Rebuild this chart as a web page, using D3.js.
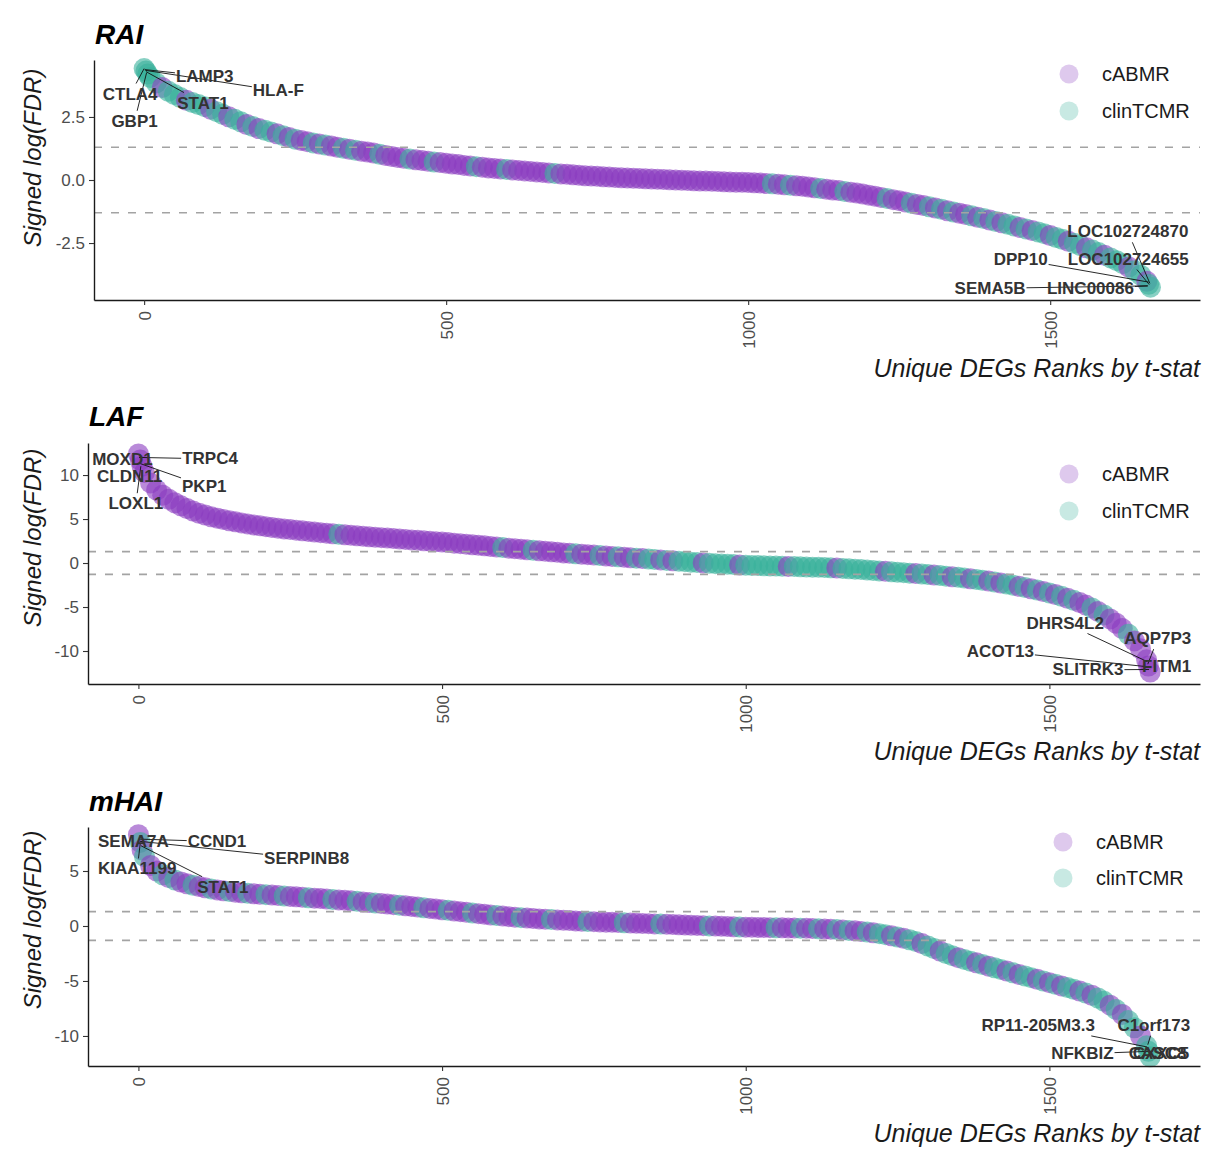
<!DOCTYPE html>
<html>
<head>
<meta charset="utf-8">
<script src="https://cdn.jsdelivr.net/npm/d3@7"></script>
<style>
  body { margin: 0; background: #fff; }
  text { font-family: "Liberation Sans", Arial, Helvetica, sans-serif; }
</style>
</head>
<body>
<svg id="chart" width="1216" height="1158"></svg>
<script>
// ---- data ----
// sampled ranks of the unique DEGs (x), shared by the three panels
const ranks = [0, 3, 6,
  10, 20, 30, 40, 50, 60, 70, 80, 90, 100,
  110, 120, 130, 140, 150, 160, 170, 180, 190, 200,
  210, 220, 230, 240, 250, 260, 270, 280, 290, 300,
  310, 320, 330, 340, 350, 360, 370, 380, 390, 400,
  410, 420, 430, 440, 450, 460, 470, 480, 490, 500,
  510, 520, 530, 540, 550, 560, 570, 580, 590, 600,
  610, 620, 630, 640, 650, 660, 670, 680, 690, 700,
  710, 720, 730, 740, 750, 760, 770, 780, 790, 800,
  810, 820, 830, 840, 850, 860, 870, 880, 890, 900,
  910, 920, 930, 940, 950, 960, 970, 980, 990, 1000,
  1010, 1020, 1030, 1040, 1050, 1060, 1070, 1080, 1090, 1100,
  1110, 1120, 1130, 1140, 1150, 1160, 1170, 1180, 1190, 1200,
  1210, 1220, 1230, 1240, 1250, 1260, 1270, 1280, 1290, 1300,
  1310, 1320, 1330, 1340, 1350, 1360, 1370, 1380, 1390, 1400,
  1410, 1420, 1430, 1440, 1450, 1460, 1470, 1480, 1490, 1500,
  1510, 1520, 1530, 1540, 1550, 1560, 1570, 1580, 1590, 1600,
  1610, 1620, 1630, 1640, 1650, 1660,
  1663, 1666];

const raiValues = [4.42, 4.32, 4.20,
  4.07, 3.85, 3.67, 3.52, 3.39, 3.27, 3.16, 3.07, 2.99, 2.91,
  2.81, 2.71, 2.61, 2.51, 2.41, 2.31, 2.20, 2.12, 2.04, 1.97,
  1.90, 1.83, 1.76, 1.69, 1.62, 1.57, 1.52, 1.47, 1.43, 1.39,
  1.35, 1.30, 1.26, 1.22, 1.18, 1.14, 1.11, 1.07, 1.02, 0.97,
  0.93, 0.89, 0.86, 0.83, 0.80, 0.77, 0.74, 0.71, 0.69, 0.66,
  0.63, 0.61, 0.58, 0.56, 0.53, 0.51, 0.48, 0.46, 0.44, 0.42,
  0.40, 0.38, 0.36, 0.34, 0.32, 0.30, 0.28, 0.26, 0.24, 0.23,
  0.21, 0.19, 0.17, 0.16, 0.15, 0.13, 0.12, 0.10, 0.09, 0.08,
  0.07, 0.06, 0.05, 0.04, 0.03, 0.02, 0.01, 0.00, -0.01, -0.02,
  -0.03, -0.04, -0.04, -0.05, -0.06, -0.07, -0.08, -0.09, -0.09, -0.10,
  -0.11, -0.12, -0.14, -0.15, -0.17, -0.19, -0.21, -0.23, -0.25, -0.28,
  -0.31, -0.34, -0.37, -0.40, -0.42, -0.46, -0.49, -0.52, -0.56, -0.60,
  -0.64, -0.69, -0.73, -0.78, -0.82, -0.87, -0.92, -0.97, -1.01, -1.06,
  -1.11, -1.16, -1.22, -1.27, -1.32, -1.37, -1.42, -1.48, -1.53, -1.59,
  -1.65, -1.70, -1.76, -1.82, -1.88, -1.94, -2.00, -2.06, -2.13, -2.20,
  -2.28, -2.35, -2.43, -2.51, -2.60, -2.69, -2.78, -2.88, -2.98, -3.09,
  -3.20, -3.32, -3.45, -3.60, -3.78, -4.02,
  -4.14, -4.25];

const lafValues = [12.4, 11.7, 11.0,
  10.3, 9.1, 8.3, 7.7, 7.25, 6.85, 6.5, 6.2, 5.9, 5.65,
  5.45, 5.25, 5.1, 4.95, 4.8, 4.68, 4.56, 4.44, 4.33, 4.23,
  4.13, 4.04, 3.96, 3.88, 3.8, 3.73, 3.66, 3.59, 3.52, 3.45,
  3.39, 3.33, 3.27, 3.21, 3.15, 3.09, 3.04, 2.99, 2.93, 2.88,
  2.83, 2.78, 2.73, 2.68, 2.63, 2.58, 2.53, 2.48, 2.43, 2.38,
  2.32, 2.26, 2.2, 2.14, 2.08, 2.02, 1.95, 1.88, 1.82, 1.75,
  1.69, 1.63, 1.57, 1.51, 1.45, 1.39, 1.33, 1.27, 1.21, 1.15,
  1.1, 1.05, 1.0, 0.95, 0.9, 0.85, 0.8, 0.75, 0.7, 0.65,
  0.6, 0.55, 0.5, 0.45, 0.4, 0.35, 0.3, 0.25, 0.2, 0.15,
  0.1, 0.05, 0.01, -0.03, -0.07, -0.11, -0.14, -0.18, -0.22, -0.25,
  -0.27, -0.29, -0.31, -0.33, -0.35, -0.37, -0.39, -0.41, -0.43, -0.45,
  -0.47, -0.49, -0.51, -0.54, -0.57, -0.61, -0.65, -0.7, -0.75, -0.8,
  -0.85, -0.9, -0.95, -1.0, -1.05, -1.1, -1.15, -1.2, -1.25, -1.3,
  -1.36, -1.42, -1.49, -1.56, -1.63, -1.71, -1.79, -1.87, -1.96, -2.05,
  -2.16, -2.27, -2.39, -2.52, -2.65, -2.79, -2.93, -3.08, -3.24, -3.4,
  -3.58, -3.78, -4.0, -4.24, -4.5, -4.78, -5.1, -5.5, -5.9, -6.35,
  -6.85, -7.45, -8.1, -8.85, -9.75, -11.0,
  -11.7, -12.4];

const mhaiValues = [8.3, 7.6, 6.9,
  6.3, 5.5, 5.0, 4.65, 4.4, 4.18, 4.0, 3.84, 3.7, 3.58,
  3.47, 3.37, 3.28, 3.2, 3.13, 3.07, 3.02, 2.97, 2.93, 2.89,
  2.85, 2.81, 2.77, 2.73, 2.69, 2.65, 2.61, 2.57, 2.53, 2.49,
  2.45, 2.41, 2.37, 2.33, 2.29, 2.24, 2.19, 2.14, 2.09, 2.04,
  1.99, 1.94, 1.89, 1.84, 1.78, 1.72, 1.66, 1.6, 1.54, 1.48,
  1.42, 1.36, 1.3, 1.24, 1.18, 1.12, 1.06, 1.0, 0.95, 0.9,
  0.85, 0.8, 0.76, 0.72, 0.68, 0.64, 0.61, 0.58, 0.55, 0.52,
  0.49, 0.46, 0.43, 0.41, 0.39, 0.37, 0.35, 0.33, 0.31, 0.29,
  0.27, 0.25, 0.23, 0.21, 0.19, 0.17, 0.15, 0.13, 0.11, 0.09,
  0.07, 0.05, 0.03, 0.01, -0.01, -0.03, -0.05, -0.07, -0.09, -0.11,
  -0.12, -0.13, -0.14, -0.15, -0.16, -0.17, -0.18, -0.19, -0.2, -0.21,
  -0.23, -0.25, -0.27, -0.3, -0.33, -0.36, -0.4, -0.44, -0.49, -0.55,
  -0.62, -0.7, -0.79, -0.89, -1.0, -1.12, -1.25, -1.4, -1.6, -1.82,
  -2.05, -2.28, -2.5, -2.7, -2.88, -3.04, -3.2, -3.35, -3.5, -3.65,
  -3.8, -3.95, -4.1, -4.25, -4.4, -4.55, -4.7, -4.85, -5.0, -5.15,
  -5.3, -5.45, -5.6, -5.76, -5.92, -6.1, -6.3, -6.55, -6.85, -7.2,
  -7.6, -8.05, -8.6, -9.25, -10.0, -10.9,
  -11.4, -11.9];

// A = cABMR, T = clinTCMR, one letter per sampled rank (same rows as above)
const raiGroups = ["TTT",
  "TTATTTATTT", "ATTATTATAT", "TATATAATAT", "AATATAAATA", "AAATAAATAA",
  "AAAATAAAAT", "AAAAAAATAA", "AAAAAAAAAA", "AAAAAAAAAA", "AAAAAAAAAA",
  "AAATAATAAA", "ATAAATAAAA", "AATAAATAAT", "ATATAATATA", "TATTATATTA",
  "TTATTATTAT", "TTATTA", "TT"].join("").split("");
const lafGroups = ["AAA",
  "AAAAAAAAAA", "AAAAAAAAAA", "AAAAAAAAAA", "AATAAAAAAA", "AAAAAAAAAA",
  "AAAAAAAAAT", "AAAATAAAAA", "ATAAATAATA", "ATATTATATT", "TTATTTTTAT",
  "TTTTTTATTT", "TTTTATTTTT", "TTATTTTATT", "ATTATTATTA", "TATTATATAT",
  "ATATAATATA", "AATAAA", "AA"].join("").split("");
const mhaiGroups = ["ATA",
  "TAATATAATA", "ATAATAATAA", "TAATAAATAA", "ATAAATAATA", "AATAAATAAA",
  "TAAATAAATA", "AATAAAATAA", "AAATAAAAAT", "AAAAATAAAA", "AAATAAAATA",
  "AAAATAAATA", "ATAATATAAT", "ATTATATTAT", "TATTATTATA", "TTATATTATA",
  "TATTATATTA", "TATTAT", "TT"].join("").split("");

const groupNames = ["cABMR", "clinTCMR"];

const xTicks = [0, 500, 1000, 1500];
const xTickLabels = ["0", "500", "1000", "1500"];
const raiTicks = [-2.5, 0, 2.5];
const raiTickLabels = ["-2.5", "0.0", "2.5"];
const lafTicks = [-10, -5, 0, 5, 10];
const lafTickLabels = ["-10", "-5", "0", "5", "10"];
const mhaiTicks = [-10, -5, 0, 5];
const mhaiTickLabels = ["-10", "-5", "0", "5"];

// labelled genes: name, rank, signed log(FDR)
const raiGenes = ["CTLA4", "LAMP3", "HLA-F", "STAT1", "GBP1",
  "LOC102724870", "LOC102724655", "DPP10", "SEMA5B", "LINC00086"];
const raiGeneRanks = [0, 1, 2, 3, 4, 1665, 1664, 1663, 1662, 1661];
const raiGeneValues = [4.42, 4.38, 4.35, 4.30, 4.25, -4.10, -4.15, -4.05, -4.20, -4.20];

const lafGenes = ["MOXD1", "TRPC4", "CLDN11", "PKP1", "LOXL1",
  "DHRS4L2", "AQP7P3", "ACOT13", "SLITRK3", "FITM1"];
const lafGeneRanks = [0, 1, 2, 3, 4, 1661, 1662, 1663, 1664, 1665];
const lafGeneValues = [12.4, 12.0, 11.6, 11.3, 11.0, -11.2, -11.5, -11.8, -12.1, -12.4];

const mhaiGenes = ["SEMA7A", "CCND1", "SERPINB8", "KIAA1199", "STAT1",
  "RP11-205M3.3", "C1orf173", "NFKBIZ", "CXXC5", "CASC8"];
const mhaiGeneRanks = [0, 1, 2, 3, 4, 1661, 1662, 1663, 1664, 1665];
const mhaiGeneValues = [8.3, 7.9, 7.7, 7.5, 7.3, -11.0, -10.8, -11.4, -11.6, -11.8];

const fdrCut = 1.3; // -log10(0.05)

// ---- layout ----
const colors = { A: "#8a3cc0", T: "#38b09b" };
const legendColors = [colors.A, colors.T];

// label offsets from their point (repel result), px
const raiNudge = [[-14, 25], [60, 6], [133, 20], [57, 31], [-12, 48],
  [-22, -52], [-21, -26], [-128, -23], [-158, 2], [-57, 2]];
const lafNudge = [[-16, 5], [71, 1], [-10, 15], [64, 22], [-5, 37],
  [-82, -39], [10, -26], [-148, -16], [-61, 0], [17, -6]];
const mhaiNudge = [[-5, 6], [78, 2], [167, 17], [-3, 25], [82, 41],
  [-109, -22], [6, -20], [-66, 2], [12, -1], [8, -3]];

const panels = [
  { title: "RAI", values: raiValues, groups: raiGroups, ticks: raiTicks, tickLabels: raiTickLabels,
    genes: raiGenes, geneRanks: raiGeneRanks, geneValues: raiGeneValues, nudge: raiNudge,
    left: 94, right: 1200, top: 60, bottom: 300, yDomain: [-4.76, 4.76],
    titleY: 44, ylabY: 158, xlabY: 377, legX: 1069, legY: [74, 111] },
  { title: "LAF", values: lafValues, groups: lafGroups, ticks: lafTicks, tickLabels: lafTickLabels,
    genes: lafGenes, geneRanks: lafGeneRanks, geneValues: lafGeneValues, nudge: lafNudge,
    left: 88, right: 1200, top: 443, bottom: 684, yDomain: [-13.75, 13.64],
    titleY: 426, ylabY: 538, xlabY: 760, legX: 1069, legY: [474, 511] },
  { title: "mHAI", values: mhaiValues, groups: mhaiGroups, ticks: mhaiTicks, tickLabels: mhaiTickLabels,
    genes: mhaiGenes, geneRanks: mhaiGeneRanks, geneValues: mhaiGeneValues, nudge: mhaiNudge,
    left: 88, right: 1200, top: 827, bottom: 1066, yDomain: [-12.73, 9.0],
    titleY: 811, ylabY: 920, xlabY: 1142, legX: 1063, legY: [842, 878] }
];

const svg = d3.select("#chart");

function clipToBox(px, py, b, pad) {
  const cx = b.x + b.width / 2, cy = b.y + b.height / 2;
  const dx = px - cx, dy = py - cy;
  const hw = b.width / 2 + pad, hh = b.height / 2 + pad;
  if (Math.abs(dx) <= hw && Math.abs(dy) <= hh) return null;
  const t = Math.min(hw / Math.max(Math.abs(dx), 1e-6), hh / Math.max(Math.abs(dy), 1e-6));
  return [cx + dx * t, cy + dy * t];
}

panels.forEach(function(p) {
  const x = d3.scaleLinear().domain([-83, 1748]).range([p.left, p.right]);
  const y = d3.scaleLinear().domain(p.yDomain).range([p.bottom, p.top]);
  const g = svg.append("g");

  // points
  const pts = ranks.map(function(r, i) { return { r: r, v: p.values[i], grp: p.groups[i] || "A" }; });
  g.append("g").selectAll("circle")
    .data(pts)
    .enter()
    .append("circle")
    .attr("cx", function(d) { return x(d.r); })
    .attr("cy", function(d) { return y(d.v); })
    .attr("r", 10.5)
    .style("fill", function(d) { return colors[d.grp]; })
    .style("fill-opacity", 0.6);

  // FDR cut-offs
  g.append("g").selectAll("line")
    .data([fdrCut, -fdrCut])
    .enter()
    .append("line")
    .attr("x1", p.left).attr("x2", p.right)
    .attr("y1", function(d) { return y(d); })
    .attr("y2", function(d) { return y(d); })
    .style("stroke", "#a3a3a3")
    .style("stroke-width", 1.7)
    .style("stroke-dasharray", "8,9");

  // axes
  const yAxis = g.append("g")
    .attr("transform", "translate(" + p.left + ",0)")
    .call(d3.axisLeft(y).tickValues(p.ticks)
      .tickFormat(function(d, i) { return p.tickLabels[i]; })
      .tickSize(5).tickSizeOuter(0).tickPadding(4));
  const xAxis = g.append("g")
    .attr("transform", "translate(0," + p.bottom + ")")
    .call(d3.axisBottom(x).tickValues(xTicks)
      .tickFormat(function(d, i) { return xTickLabels[i]; })
      .tickSize(5).tickSizeOuter(0));
  xAxis.selectAll("text")
    .attr("transform", "rotate(-90)")
    .attr("x", -11).attr("y", 0).attr("dy", "0.35em")
    .style("text-anchor", "end");
  [yAxis, xAxis].forEach(function(a) {
    a.select(".domain").style("stroke", "#1a1a1a").style("stroke-width", 1.4);
    a.selectAll(".tick line").style("stroke", "#333").style("stroke-width", 1.1);
    a.selectAll(".tick text")
      .style("font-size", "17px")
      .style("fill", "#4d4d4d")
      .style("font-family", "'Liberation Sans', Arial, sans-serif");
  });

  // titles
  g.append("text")
    .attr("x", p.left + 1).attr("y", p.titleY)
    .style("font-size", "28px").style("font-weight", "bold").style("font-style", "italic")
    .style("fill", "#000")
    .text(p.title);
  g.append("text")
    .attr("transform", "translate(33," + p.ylabY + ") rotate(-90)")
    .attr("dy", "0.35em")
    .style("text-anchor", "middle")
    .style("font-size", "24px").style("font-style", "italic").style("fill", "#1a1a1a")
    .text("Signed log(FDR)");
  g.append("text")
    .attr("x", p.right).attr("y", p.xlabY)
    .style("text-anchor", "end")
    .style("font-size", "25px").style("font-style", "italic").style("fill", "#1a1a1a")
    .text("Unique DEGs Ranks by t-stat");

  // legend
  const leg = g.append("g").selectAll("g")
    .data(groupNames)
    .enter()
    .append("g")
    .attr("transform", function(d, i) { return "translate(" + p.legX + "," + p.legY[i] + ")"; });
  leg.append("circle")
    .attr("r", 9.5)
    .style("fill", function(d, i) { return legendColors[i]; })
    .style("fill-opacity", 0.28);
  leg.append("text")
    .attr("x", 33).attr("dy", "0.35em")
    .style("font-size", "20px").style("fill", "#1a1a1a")
    .text(function(d) { return d; });

  // gene labels + segments
  const segG = g.append("g");
  const labG = g.append("g");
  p.genes.forEach(function(name, i) {
    const px = x(p.geneRanks[i]), py = y(p.geneValues[i]);
    const t = labG.append("text")
      .attr("x", px + p.nudge[i][0]).attr("y", py + p.nudge[i][1])
      .attr("dy", "0.35em")
      .style("text-anchor", "middle")
      .style("font-size", "17px").style("font-weight", "bold").style("fill", "#333")
      .text(name);
    const end = clipToBox(px, py, t.node().getBBox(), 1);
    if (end && Math.hypot(end[0] - px, end[1] - py) > 6) {
      segG.append("line")
        .attr("x1", px).attr("y1", py).attr("x2", end[0]).attr("y2", end[1])
        .style("stroke", "#111").style("stroke-width", 0.9);
    }
  });
});
</script>
</body>
</html>
